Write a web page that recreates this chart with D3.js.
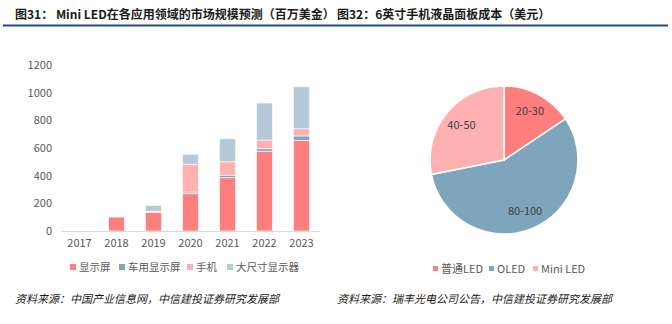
<!DOCTYPE html>
<html><head><meta charset="utf-8">
<script src="https://cdn.jsdelivr.net/npm/d3@7"></script>
<style>
body{margin:0;background:#fff;}
svg{display:block;font-family:"Noto Sans CJK SC","Noto Sans",sans-serif;}
</style></head>
<body>
<svg id="c" width="672" height="324"></svg>
<script>
// Mini LED market size by application (USD million)
const years = ["2017","2018","2019","2020","2021","2022","2023"];
const seriesNames = ["显示屏","车用显示屏","手机","大尺寸显示器"];
const display = [0, 100, 135, 270, 386, 576, 655];
const automotive = [0, 0, 2, 12, 16, 19, 32];
const handset = [0, 0, 5, 200, 99, 63, 53];
const largeDisplay = [0, 0, 43, 72, 166, 267, 303];
const yTicks = [0, 200, 400, 600, 800, 1000, 1200];
const barColors = ["#ff7f7f", "#7fa5bc", "#ffb1b1", "#b4c9d7"];

// 6-inch phone panel cost (USD)
const pieLabels = ["20-30", "80-100", "40-50"];
const pieNames = ["普通LED", "OLED", "Mini LED"];
const pieValues = [25, 90, 45];
const pieColors = ["#ff7f7f", "#7fa5bc", "#ffb0b0"];

const svg = d3.select("#c");

// headings and rule
svg.append("text").attr("x", 15).attr("y", 19)
  .attr("font-size", 12).attr("font-weight", "bold").attr("fill", "#1a1a1a")
  .text("图31： Mini LED在各应用领域的市场规模预测（百万美金）");
svg.append("text").attr("x", 337).attr("y", 19)
  .attr("font-size", 12).attr("font-weight", "bold").attr("fill", "#1a1a1a")
  .text("图32：6英寸手机液晶面板成本（美元）");
svg.append("line").attr("x1", 3).attr("x2", 668).attr("y1", 25.5).attr("y2", 25.5)
  .attr("stroke", "#1f4e79").attr("stroke-width", 2);

// ---- stacked bars ----
const x = d3.scaleBand().domain(years).range([61, 320]).paddingInner(0.57).paddingOuter(0.285);
const y = d3.scaleLinear().domain([0, 1200]).range([231, 65]);

const rows = years.map((yr, i) => ({
  year: yr, "显示屏": display[i], "车用显示屏": automotive[i],
  "手机": handset[i], "大尺寸显示器": largeDisplay[i]
}));
const stacked = d3.stack().keys(seriesNames)(rows);

const yAxis = d3.axisLeft(y).tickValues(yTicks).tickFormat(d3.format("d")).tickSize(0).tickPadding(0);
const gy = svg.append("g").attr("transform", "translate(52,0)").call(yAxis);
gy.select(".domain").remove();
gy.selectAll("text").attr("font-size", 11).attr("fill", "#595959")
  .attr("font-family", "'Noto Sans CJK SC','Noto Sans',sans-serif");

svg.append("g").selectAll("g").data(stacked).join("g")
  .attr("fill", (d, i) => barColors[i])
  .selectAll("rect").data(d => d.filter(s => s[1] - s[0] > 0)).join("rect")
  .attr("x", d => x(d.data.year))
  .attr("width", x.bandwidth())
  .attr("y", d => y(d[1]))
  .attr("height", d => y(d[0]) - y(d[1]))
  .attr("stroke", "rgba(255,255,255,0.6)").attr("stroke-width", 1);

const xAxis = d3.axisBottom(x).tickSize(0).tickPadding(8);
const gx = svg.append("g").attr("transform", "translate(0,231)").call(xAxis);
gx.select(".domain").attr("stroke", "#d9d9d9").attr("stroke-width", 1.2);
gx.selectAll("text").attr("font-size", 11).attr("fill", "#595959")
  .attr("font-family", "'Noto Sans CJK SC','Noto Sans',sans-serif");

// bar legend
const barLegendX = [70, 119, 187, 227];
const bl = svg.append("g").selectAll("g").data(seriesNames).join("g")
  .attr("transform", (d, i) => `translate(${barLegendX[i]},267)`);
bl.append("rect").attr("x", 0).attr("y", -3).attr("width", 6).attr("height", 6)
  .attr("fill", (d, i) => barColors[i]);
bl.append("text").attr("x", 9).attr("y", 4).attr("font-size", 10.5).attr("fill", "#595959").text(d => d);

// ---- pie ----
const cx = 504, cy = 160, r = 74;
const pie = d3.pie().sort(null).value(d => d)(pieValues);
const arc = d3.arc().innerRadius(0).outerRadius(r);
const labelArc = d3.arc().innerRadius(55).outerRadius(55);
const gp = svg.append("g").attr("transform", `translate(${cx},${cy})`);
gp.selectAll("path").data(pie).join("path")
  .attr("d", arc).attr("fill", (d, i) => pieColors[i])
  .attr("stroke", "#fff").attr("stroke-width", 1.5);
gp.selectAll("text").data(pie).join("text")
  .attr("transform", d => `translate(${labelArc.centroid(d)})`)
  .attr("text-anchor", "middle").attr("dy", "0.35em")
  .attr("font-size", 11).attr("fill", "#404040")
  .text((d, i) => pieLabels[i]);

// pie legend
const pieLegendX = [433, 489, 533];
const pl = svg.append("g").selectAll("g").data(pieNames).join("g")
  .attr("transform", (d, i) => `translate(${pieLegendX[i]},269)`);
pl.append("rect").attr("x", 0).attr("y", -3).attr("width", 5).attr("height", 5)
  .attr("fill", (d, i) => pieColors[i]);
pl.append("text").attr("x", 8).attr("y", 4).attr("font-size", 11).attr("fill", "#595959").text(d => d);

// sources
svg.append("text").attr("x", 15).attr("y", 303).attr("font-size", 11)
  .attr("font-style", "italic").attr("fill", "#1a1a1a")
  .text("资料来源：中国产业信息网，中信建投证券研究发展部");
svg.append("text").attr("x", 337).attr("y", 303).attr("font-size", 11)
  .attr("font-style", "italic").attr("fill", "#1a1a1a")
  .text("资料来源：瑞丰光电公司公告，中信建投证券研究发展部");
</script>
</body></html>
